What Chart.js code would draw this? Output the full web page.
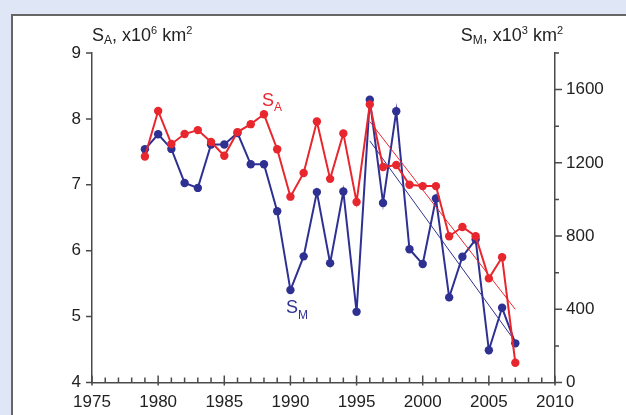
<!DOCTYPE html>
<html>
<head>
<meta charset="utf-8">
<script src="https://cdn.jsdelivr.net/npm/chart.js@4.4.0/dist/chart.umd.min.js"></script>
<style>
  body { margin: 0; background: #dfe6f5; width: 626px; height: 415px; overflow: hidden; position: relative; }
  #panel { position: absolute; left: 11px; top: 14px; width: 700px; height: 500px; background: #fff;
           border-left: 2px solid #666; border-top: 2px solid #666; }
  #chart { position: absolute; left: 0; top: 0; }
</style>
</head>
<body>
<div id="panel"></div>
<canvas id="chart" width="626" height="415"></canvas>
<script>
var years = [1979, 1980, 1981, 1982, 1983, 1984, 1985, 1986, 1987, 1988, 1989, 1990, 1991, 1992, 1993,
             1994, 1995, 1996, 1997, 1998, 1999, 2000, 2001, 2002, 2003, 2004, 2005, 2006, 2007];
// S_A, x10^6 km2 (left axis)
var saValues = [7.43, 8.12, 7.62, 7.77, 7.83, 7.65, 7.44, 7.80, 7.92, 8.07, 7.54, 6.82, 7.18, 7.96, 7.09,
                7.78, 6.74, 8.22, 7.27, 7.30, 7.00, 6.98, 6.98, 6.22, 6.36, 6.22, 5.58, 5.90, 4.30];
// S_M, x10^3 km2 (right axis)
var smValues = [1274, 1356, 1276, 1090, 1063, 1300, 1300, 1363, 1192, 1192, 936, 505, 689, 1040, 652,
                1043, 386, 1545, 981, 1482, 728, 647, 1005, 465, 687, 781, 176, 408, 214];
// trend lines 1996-2007
var trendYears = [1996, 2007];
var saTrend = [7.96, 5.11];
var smTrend = [1320, 223];

var red = '#e8262d';
var blue = '#2e3192';
var ink = '#222';
var axisColor = '#4a4a4a';
var fam = '"Liberation Sans Narrow", "Liberation Sans", Arial, sans-serif';

function pts(xs, ys) {
    return xs.map(function (x, i) { return { x: x, y: ys[i] }; });
}

function drawParts(ctx, parts, x, y, color, alignRight) {
    var total = 0;
    parts.forEach(function (p) {
        ctx.font = p[1] + 'px ' + fam;
        total += ctx.measureText(p[0]).width;
    });
    var cx = alignRight ? x - total : x;
    ctx.fillStyle = color;
    ctx.textBaseline = 'alphabetic';
    ctx.textAlign = 'left';
    parts.forEach(function (p) {
        ctx.font = p[1] + 'px ' + fam;
        ctx.fillText(p[0], cx, y + (p[2] || 0));
        cx += ctx.measureText(p[0]).width;
    });
}

var decorations = {
    id: 'decorations',
    afterDraw: function (chart) {
        var ctx = chart.ctx;
        var sx = chart.scales.x, sy = chart.scales.y, sy1 = chart.scales.y1;
        var ca = chart.chartArea;
        ctx.save();
        ctx.strokeStyle = axisColor;
        ctx.lineWidth = 1.5;
        ctx.beginPath();
        for (var yr = 1975; yr <= 2010; yr++) {
            var px = sx.getPixelForValue(yr);
            if (yr % 5 === 0) {
                ctx.moveTo(px, ca.bottom - 7);
                ctx.lineTo(px, ca.bottom + 3);
            } else {
                ctx.moveTo(px, ca.bottom);
                ctx.lineTo(px, ca.bottom - 5);
            }
        }
        for (var v = 4; v <= 9; v++) {
            var py = sy.getPixelForValue(v);
            ctx.moveTo(ca.left, py);
            ctx.lineTo(ca.left - 6, py);
        }
        for (var m = 0; m <= 1800; m += 200) {
            var py1 = sy1.getPixelForValue(m);
            ctx.moveTo(ca.right, py1);
            ctx.lineTo(ca.right + (m % 400 === 0 ? 7 : 4), py1);
        }
        ctx.stroke();

        drawParts(ctx, [['S', 18], ['A', 12, 3], [', x10', 18], ['6', 11, -7], [' km', 18], ['2', 11, -7]], 92, 41, ink, false);
        drawParts(ctx, [['S', 18], ['M', 12, 3], [', x10', 18], ['3', 11, -7], [' km', 18], ['2', 11, -7]], 563, 41, ink, true);
        drawParts(ctx, [['S', 18], ['A', 12, 5]], 262, 106, red, false);
        drawParts(ctx, [['S', 18], ['M', 12, 6]], 286, 313, blue, false);
        ctx.restore();
    }
};

var tickFont = { family: fam, size: 17 };

new Chart(document.getElementById('chart').getContext('2d'), {
    type: 'line',
    data: {
        datasets: [
            {
                data: pts(years, saValues), yAxisID: 'y',
                borderColor: red, backgroundColor: red, borderWidth: 2,
                pointRadius: 4.2, pointBorderWidth: 0, pointBackgroundColor: red, tension: 0
            },
            {
                data: pts(trendYears, saTrend), yAxisID: 'y',
                borderColor: red, borderWidth: 1, pointRadius: 0
            },
            {
                data: pts(trendYears, smTrend), yAxisID: 'y1',
                borderColor: blue, borderWidth: 1, pointRadius: 0
            },
            {
                data: pts(years, smValues), yAxisID: 'y1',
                borderColor: blue, backgroundColor: blue, borderWidth: 2,
                pointRadius: 4.2, pointBorderWidth: 0, pointBackgroundColor: blue, tension: 0
            }
        ]
    },
    options: {
        responsive: false,
        animation: false,
        layout: { padding: { top: 53, left: 0, right: 0, bottom: 0 } },
        plugins: { legend: { display: false }, tooltip: { enabled: false } },
        scales: {
            x: {
                type: 'linear', min: 1975, max: 2010,
                ticks: { stepSize: 5, padding: 10, font: tickFont, color: ink, maxRotation: 0,
                         callback: function (v) { return String(v); } },
                grid: { display: true, drawOnChartArea: false, drawTicks: false },
                border: { color: axisColor, width: 1.5 },
                afterFit: function (s) { s.height = 32.5; }
            },
            y: {
                position: 'left', min: 4, max: 9,
                ticks: { stepSize: 1, padding: 11, font: tickFont, color: ink },
                grid: { display: true, drawOnChartArea: false, drawTicks: false },
                border: { color: axisColor, width: 1.5 },
                afterFit: function (s) { s.width = 92; }
            },
            y1: {
                position: 'right', min: 0, max: 1800,
                ticks: { stepSize: 400, padding: 11, font: tickFont, color: ink,
                         callback: function (v) { return v === 1800 ? '' : String(v); } },
                grid: { display: true, drawOnChartArea: false, drawTicks: false },
                border: { color: axisColor, width: 1.5 },
                afterFit: function (s) { s.width = 71; }
            }
        }
    },
    plugins: [decorations]
});
</script>
</body>
</html>
